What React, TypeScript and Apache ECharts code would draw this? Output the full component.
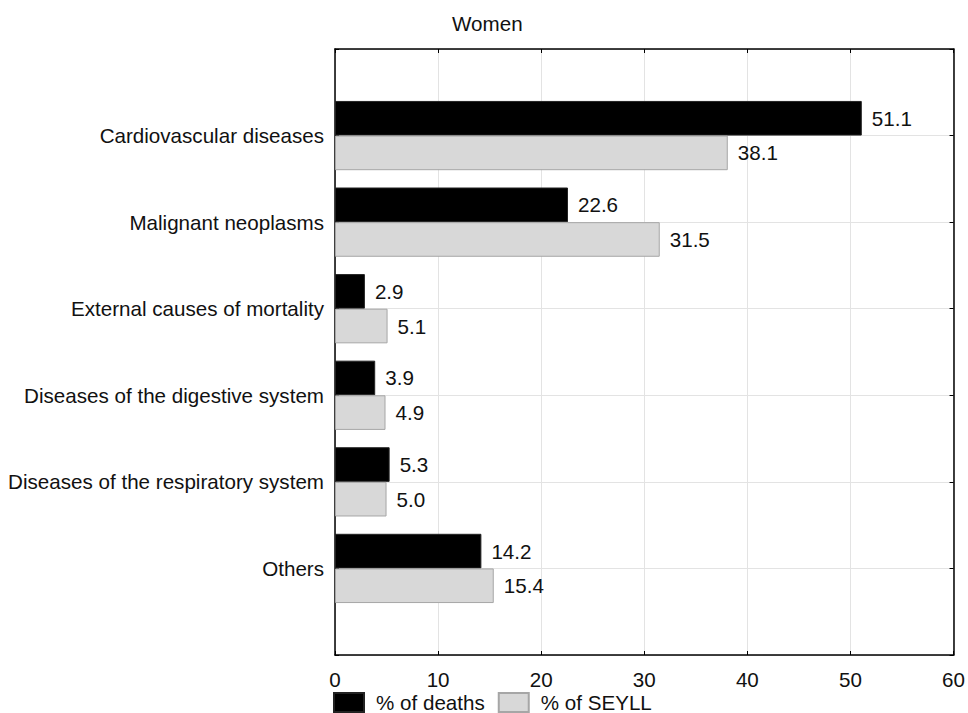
import React, { useEffect, useRef } from "react";
import * as echarts from "echarts";

const categories = [
  "Cardiovascular diseases",
  "Malignant neoplasms",
  "External causes of mortality",
  "Diseases of the digestive system",
  "Diseases of the respiratory system",
  "Others",
];
const deaths = [51.1, 22.6, 2.9, 3.9, 5.3, 14.2];
const seyll = [38.1, 31.5, 5.1, 4.9, 5.0, 15.4];
const xTicks = [0, 10, 20, 30, 40, 50, 60];

const FONT = "'Liberation Sans', Arial, sans-serif";

export default function App() {
  const ref = useRef<HTMLDivElement>(null);
  useEffect(() => {
    if (!ref.current) return;
    const chart = echarts.init(ref.current, null, { renderer: "svg" });
    const cats = ["", ...categories, ""];
    const pad = (a: number[]) => ["-", ...a, "-"];
    const labelCommon = {
      show: true,
      position: "right" as const,
      distance: 10,
      color: "#111",
      fontSize: 20.6,
      fontFamily: FONT,
      formatter: (p: any) => Number(p.value).toFixed(1),
    };
    const frameAxisLine = { show: true, onZero: false, lineStyle: { color: "#000", width: 1.5 } };
    const frameTick = { show: true, inside: true, length: 4, lineStyle: { color: "#000" } };
    chart.setOption({
      animation: false,
      backgroundColor: "#fff",
      title: {
        text: "Women",
        left: 452,
        top: 12,
        padding: 0,
        textStyle: { fontSize: 20.6, lineHeight: 22, fontWeight: "normal", color: "#111", fontFamily: FONT },
      },
      legend: {
        left: 333,
        top: 692,
        padding: 0,
        icon: "rect",
        itemWidth: 30,
        itemHeight: 19,
        itemGap: 13,
        textStyle: { fontSize: 20.6, lineHeight: 21, color: "#111", fontFamily: FONT, padding: [0, 0, 0, 7] },
        data: ["% of deaths", "% of SEYLL"],
      },
      grid: { left: 335, right: 11, top: 49, bottom: 58, containLabel: false },
      xAxis: [
        {
          type: "value",
          min: xTicks[0],
          max: xTicks[xTicks.length - 1],
          interval: 10,
          axisLine: frameAxisLine,
          axisTick: frameTick,
          axisLabel: { fontSize: 20.6, color: "#111", fontFamily: FONT, margin: 14 },
          splitLine: { show: true, lineStyle: { color: "#e3e3e3", width: 1 } },
        },
        {
          type: "value",
          position: "top",
          min: xTicks[0],
          max: xTicks[xTicks.length - 1],
          interval: 10,
          axisLine: frameAxisLine,
          axisTick: frameTick,
          axisLabel: { show: false },
          splitLine: { show: false },
        },
      ],
      yAxis: [
        {
          type: "category",
          data: cats,
          inverse: true,
          boundaryGap: false,
          axisLine: frameAxisLine,
          axisTick: frameTick,
          axisLabel: { fontSize: 20.6, color: "#111", fontFamily: FONT, margin: 11, interval: 0 },
          splitLine: { show: true, lineStyle: { color: "#e3e3e3", width: 1 } },
        },
        {
          type: "category",
          data: cats,
          inverse: true,
          boundaryGap: false,
          position: "right",
          axisLine: frameAxisLine,
          axisTick: frameTick,
          axisLabel: { show: false },
          splitLine: { show: false },
        },
      ],
      series: [
        {
          name: "% of deaths",
          type: "bar",
          xAxisIndex: 0,
          yAxisIndex: 0,
          data: pad(deaths),
          barGap: "0%",
          barCategoryGap: "20%",
          itemStyle: { color: "#000", borderColor: "#222", borderWidth: 1 },
          label: labelCommon,
        },
        {
          name: "% of SEYLL",
          type: "bar",
          xAxisIndex: 0,
          yAxisIndex: 0,
          data: pad(seyll),
          barGap: "0%",
          barCategoryGap: "20%",
          itemStyle: { color: "#d8d8d8", borderColor: "#a6a6a6", borderWidth: 1 },
          label: labelCommon,
        },
      ],
    });
    return () => chart.dispose();
  }, []);
  return <div ref={ref} style={{ width: 968, height: 713, position: "absolute", left: 0, top: 0 }} />;
}
